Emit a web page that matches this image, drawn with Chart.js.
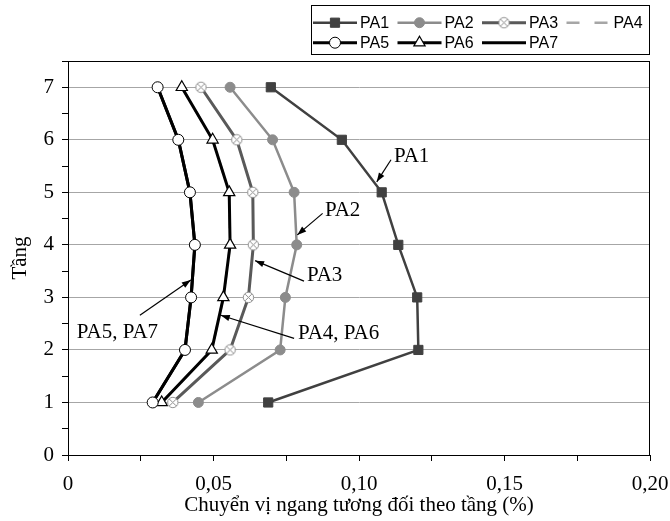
<!DOCTYPE html>
<html>
<head>
<meta charset="utf-8">
<script src="https://cdn.jsdelivr.net/npm/chart.js@4.4.0/dist/chart.umd.min.js"></script>
<style>
  body { margin: 0; background: #fff; }
</style>
</head>
<body>
<canvas id="drift" width="670" height="521"></canvas>
<script>
// floors (Tầng) and storey drift values (%)
var floors = [1, 2, 3, 4, 5, 6, 7];
var pa1 = [0.0688, 0.1204, 0.1200, 0.1135, 0.1078, 0.0941, 0.0697];
var pa2 = [0.0448, 0.0729, 0.0747, 0.0786, 0.0777, 0.0703, 0.0557];
var pa3 = [0.0360, 0.0557, 0.0620, 0.0637, 0.0635, 0.0580, 0.0457];
var pa4 = [0.0322, 0.0494, 0.0534, 0.0557, 0.0554, 0.0497, 0.0391];
var pa5 = [0.0291, 0.0402, 0.0423, 0.0436, 0.0419, 0.0379, 0.0308];
var pa6 = [0.0322, 0.0494, 0.0534, 0.0557, 0.0554, 0.0497, 0.0391];
var pa7 = [0.0291, 0.0402, 0.0423, 0.0436, 0.0419, 0.0379, 0.0308];
var seriesNames = ['PA1', 'PA2', 'PA3', 'PA4', 'PA5', 'PA6', 'PA7'];
var xTickLabels = ['0', '0,05', '0,10', '0,15', '0,20'];
var yTickLabels = ['0', '1', '2', '3', '4', '5', '6', '7'];

// callouts: text anchor + arrow, in data units
var callouts = [
  { text: 'PA1',      x: 0.1120, y: 5.68, ax: 0.1110, ay: 5.62, bx: 0.1061, by: 5.20 },
  { text: 'PA2',      x: 0.0883, y: 4.66, ax: 0.0875, ay: 4.60, bx: 0.0788, by: 4.19 },
  { text: 'PA3',      x: 0.0821, y: 3.42, ax: 0.0811, ay: 3.31, bx: 0.0643, by: 3.70 },
  { text: 'PA4, PA6', x: 0.0790, y: 2.31, ax: 0.0777, ay: 2.22, bx: 0.0525, by: 2.66 },
  { text: 'PA5, PA7', x: 0.0030, y: 2.33, ax: 0.0247, ay: 2.66, bx: 0.0422, by: 3.33 }
];

var SERIF = '"Liberation Serif", "Times New Roman", serif';
var SANS = '"Liberation Sans", Arial, sans-serif';

function pts(vals) {
  return vals.map(function(v, i) { return { x: v, y: floors[i] }; });
}

// circle with an x in it (PA3 marker)
function crossedCircle() {
  var c = document.createElement('canvas');
  c.width = 13; c.height = 13;
  var g = c.getContext('2d');
  g.fillStyle = '#fff';
  g.strokeStyle = '#8c8c8c';
  g.lineWidth = 1;
  g.beginPath(); g.arc(6.5, 6.5, 5.2, 0, Math.PI * 2); g.fill(); g.stroke();
  g.beginPath();
  g.moveTo(3.2, 3.2); g.lineTo(9.8, 9.8);
  g.moveTo(9.8, 3.2); g.lineTo(3.2, 9.8);
  g.stroke();
  return c;
}

var datasets = [
  { label: seriesNames[0], data: pts(pa1), borderColor: '#404040', borderWidth: 2.5,
    pointStyle: 'rect', pointRadius: 6.5, pointBackgroundColor: '#404040', pointBorderColor: '#404040', pointBorderWidth: 1 },
  { label: seriesNames[1], data: pts(pa2), borderColor: '#8c8c8c', borderWidth: 2.5,
    pointStyle: 'circle', pointRadius: 5, pointBackgroundColor: '#8c8c8c', pointBorderColor: '#8c8c8c', pointBorderWidth: 1 },
  { label: seriesNames[2], data: pts(pa3), borderColor: '#595959', borderWidth: 3,
    pointStyle: crossedCircle(), pointRadius: 6, pointBackgroundColor: '#fff', pointBorderColor: '#8c8c8c' },
  { label: seriesNames[3], data: pts(pa4), borderColor: '#a6a6a6', borderWidth: 2.5, borderDash: [13, 15],
    pointRadius: 0, order: 10 },
  { label: seriesNames[4], data: pts(pa5), borderColor: '#000', borderWidth: 3,
    pointStyle: 'circle', pointRadius: 5.5, pointBackgroundColor: '#fff', pointBorderColor: '#000', pointBorderWidth: 1 },
  { label: seriesNames[5], data: pts(pa6), borderColor: '#000', borderWidth: 3,
    pointStyle: 'triangle', pointRadius: 6.5, pointBackgroundColor: '#fff', pointBorderColor: '#000', pointBorderWidth: 1.2 },
  { label: seriesNames[6], data: pts(pa7), borderColor: '#000', borderWidth: 3,
    pointRadius: 0, order: 10 }
];
datasets.forEach(function(d) { d.showLine = true; d.fill = false; d.tension = 0; d.pointHoverRadius = d.pointRadius; });

var frame = {
  id: 'frame',
  beforeDatasetsDraw: function(chart) {
    var a = chart.chartArea, ctx = chart.ctx;
    ctx.save();
    ctx.strokeStyle = '#000';
    ctx.lineWidth = 1;
    ctx.strokeRect(Math.round(a.left) + 0.5, Math.round(a.top) + 0.5,
      Math.round(a.right - a.left) - 1, Math.round(a.bottom - a.top));
    ctx.restore();
  }
};

function arrow(ctx, x1, y1, x2, y2) {
  ctx.beginPath(); ctx.moveTo(x1, y1); ctx.lineTo(x2, y2); ctx.stroke();
  var a = Math.atan2(y2 - y1, x2 - x1), L = 9, W = 3.2;
  ctx.beginPath();
  ctx.moveTo(x2, y2);
  ctx.lineTo(x2 - L * Math.cos(a) + W * Math.sin(a), y2 - L * Math.sin(a) - W * Math.cos(a));
  ctx.lineTo(x2 - L * Math.cos(a) - W * Math.sin(a), y2 - L * Math.sin(a) + W * Math.cos(a));
  ctx.closePath(); ctx.fill();
}

var notes = {
  id: 'notes',
  afterDatasetsDraw: function(chart) {
    var ctx = chart.ctx, xs = chart.scales.x, ys = chart.scales.y;
    ctx.save();
    ctx.fillStyle = '#000';
    ctx.strokeStyle = '#000';
    ctx.lineWidth = 1.2;
    ctx.font = '21px ' + SERIF;
    ctx.textBaseline = 'middle';
    callouts.forEach(function(c) {
      ctx.fillText(c.text, xs.getPixelForValue(c.x), ys.getPixelForValue(c.y));
      arrow(ctx, xs.getPixelForValue(c.ax), ys.getPixelForValue(c.ay),
        xs.getPixelForValue(c.bx), ys.getPixelForValue(c.by));
    });
    ctx.restore();
  }
};

function marker(ctx, ds, x, y) {
  if (!ds.pointRadius) return;
  ctx.fillStyle = ds.pointBackgroundColor;
  ctx.strokeStyle = ds.pointBorderColor;
  ctx.lineWidth = ds.pointBorderWidth || 1;
  Chart.helpers.drawPoint(ctx, { pointStyle: ds.pointStyle, radius: ds.pointRadius, borderWidth: ds.pointBorderWidth || 1, rotation: 0 }, x, y);
}

var boxLegend = {
  id: 'boxLegend',
  afterDraw: function(chart) {
    var ctx = chart.ctx;
    var right = Math.round(chart.chartArea.right);
    var w = 339, left = right - w, top = 5;
    ctx.save();
    ctx.strokeStyle = '#000';
    ctx.lineWidth = 1;
    ctx.strokeRect(left + 0.5, top + 0.5, w - 1, 49);
    ctx.font = '16px ' + SANS;
    ctx.textBaseline = 'middle';
    chart.data.datasets.forEach(function(ds, i) {
      var col = i < 4 ? i : i - 4, row = i < 4 ? 0 : 1;
      var x0 = left + 2 + col * 84.5, y0 = top + 17.7 + row * 20;
      ctx.save();
      ctx.strokeStyle = ds.borderColor;
      ctx.lineWidth = ds.borderWidth;
      ctx.setLineDash(ds.borderDash || []);
      ctx.beginPath(); ctx.moveTo(x0, y0); ctx.lineTo(x0 + 44, y0); ctx.stroke();
      ctx.restore();
      marker(ctx, ds, x0 + 22, y0);
      ctx.fillStyle = '#000';
      ctx.fillText(ds.label, x0 + 47, y0 + 1);
    });
    ctx.restore();
  }
};

new Chart(document.getElementById('drift'), {
  type: 'scatter',
  data: { datasets: datasets },
  options: {
    responsive: false,
    animation: false,
    layout: { padding: { top: 61, right: 20, left: 0, bottom: 0 } },
    plugins: { legend: { display: false }, tooltip: { enabled: false } },
    scales: {
      x: {
        type: 'linear', min: 0, max: 0.2,
        afterFit: function(s) { s.height = 66; s.paddingLeft = 0; s.paddingRight = 0; },
        ticks: {
          stepSize: 0.025, autoSkip: false, maxRotation: 0, color: '#000', padding: 11,
          font: { family: SERIF, size: 21 },
          callback: function(v) {
            var k = Math.round(v * 40);
            return k % 2 ? '' : xTickLabels[k / 2];
          }
        },
        grid: { drawOnChartArea: false, drawTicks: true, tickLength: 6, tickColor: '#000' },
        border: { color: '#000', width: 1 },
        title: { display: true, text: 'Chuyển vị ngang tương đối theo tầng (%)', color: '#000',
          font: { family: SERIF, size: 21 }, padding: { top: 0, bottom: 3 } }
      },
      y: {
        type: 'linear', min: 0, max: 7.5,
        afterFit: function(s) { s.width = 68; s.paddingTop = 0; s.paddingBottom = 0; },
        ticks: {
          stepSize: 0.5, autoSkip: false, color: '#000', padding: 8,
          font: { family: SERIF, size: 21 },
          callback: function(v) {
            var k = Math.round(v * 2);
            return k % 2 ? '' : yTickLabels[k / 2];
          }
        },
        grid: {
          drawTicks: true, tickLength: 6, tickColor: '#000',
          color: function(c) {
            var v = c.tick ? c.tick.value : 0;
            return (Math.round(v * 2) % 2 === 0 && v > 0) ? '#a6a6a6' : 'rgba(0,0,0,0)';
          }
        },
        border: { color: '#000', width: 1 },
        title: { display: true, text: 'Tầng', color: '#000',
          font: { family: SERIF, size: 21 }, padding: { top: 8, bottom: 0 } }
      }
    }
  },
  plugins: [frame, notes, boxLegend]
});
</script>
</body>
</html>
